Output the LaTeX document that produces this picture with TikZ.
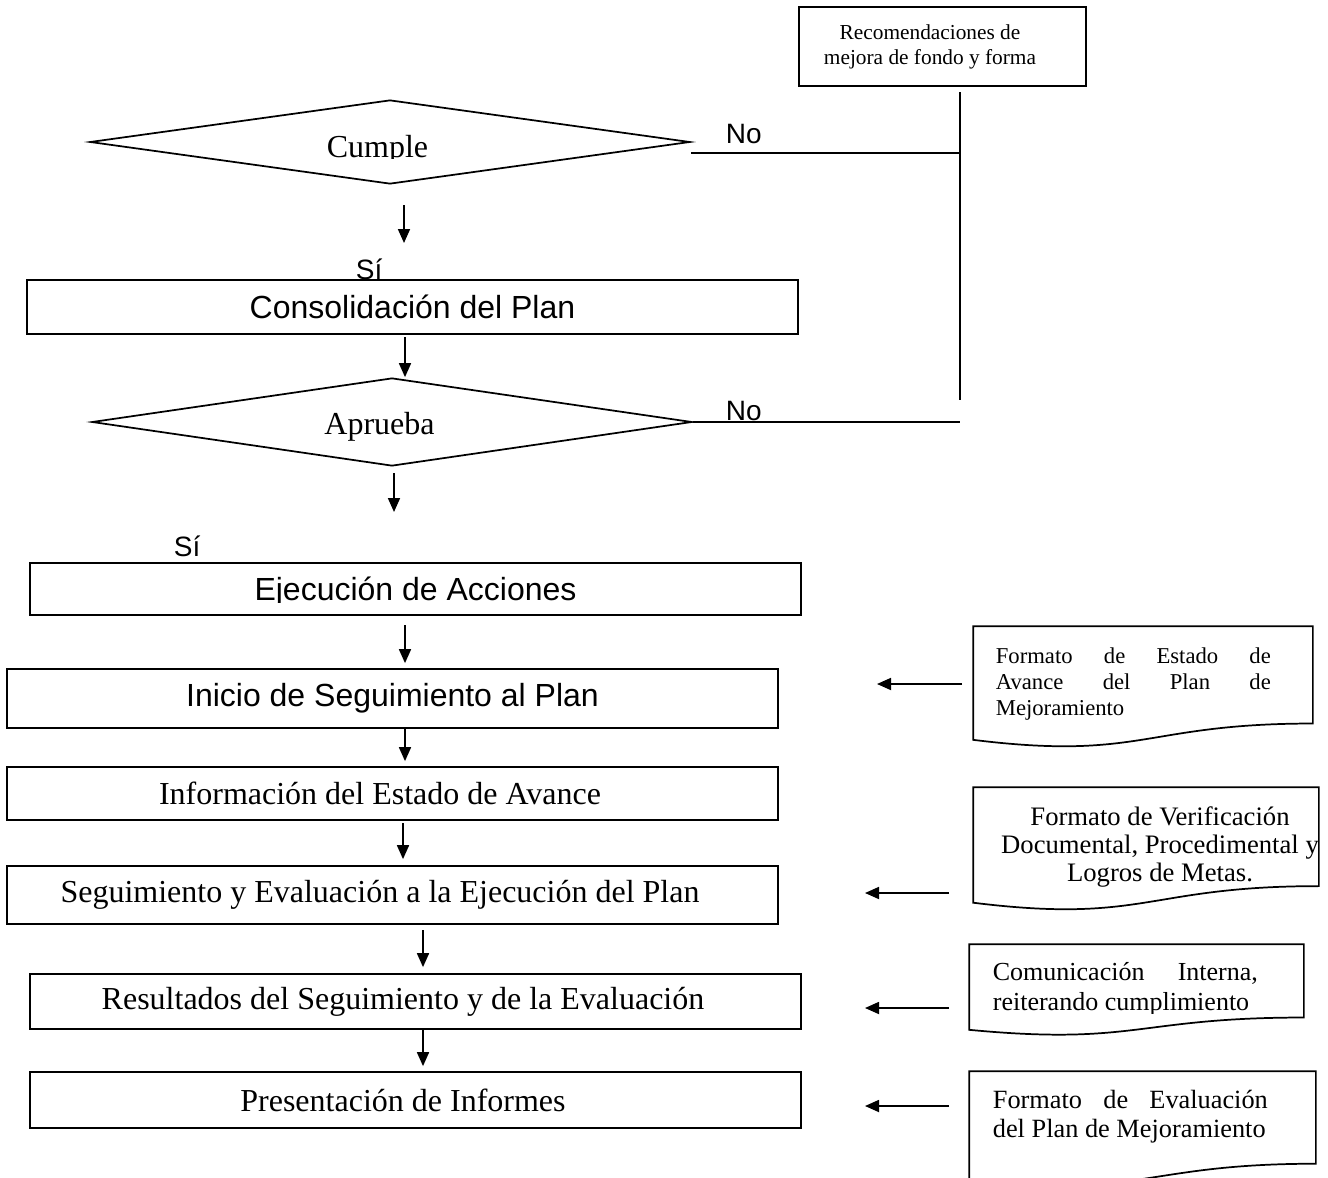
\documentclass[tikz,border=0pt]{standalone}
\usepackage{fontspec}
\setmainfont{Liberation Serif}
\newfontfamily\arialfont{Liberation Sans}
\usetikzlibrary{arrows.meta,calc,shapes.geometric}

% flowchart "document" symbol drawn over the frame of a named node
\newcommand\docoutline[1]{%
  \draw (#1.north west) -- (#1.north east)
    -- ($(#1.north east)!0.8!(#1.south east)$)
    .. controls ($(#1.north)!0.8!(#1.south)$) and ($(#1.north)!1.107!(#1.south)$)
    .. ($(#1.north west)!0.934!(#1.south west)$) -- cycle;}

\begin{document}
\begin{tikzpicture}[x=0.75pt,y=-0.75pt,line width=1.3pt,
  stepbox/.style={draw,rectangle,inner sep=0pt,minimum width=578.25pt},
  decision/.style={draw,diamond,inner sep=0pt},
  docframe/.style={rectangle,inner sep=0pt},
  sanslbl/.style={font=\arialfont\fontsize{24}{28}\selectfont},
  seriflbl/.style={font=\fontsize{24}{28}\selectfont},
  yesno/.style={font=\arialfont\fontsize{21}{24}\selectfont,inner sep=0pt},
  arr/.style={-{Triangle[length=10.5pt,width=9pt]}},
]
\useasboundingbox (0,0) rectangle (1328,1178);

% ---------- top: recommendations box and return line ----------
\node[stepbox,minimum width=215.25pt,minimum height=59.25pt] (rec) at (942.5,46.5) {};
\node[font=\fontsize{16}{18.75}\selectfont,align=center,inner sep=0pt] (rectxt) at (930,47)
  {Recomendaciones de\\mejora de fondo y forma};

\coordinate (vtop) at (960,92);
\coordinate (vbot) at (960,400);
\coordinate (nofrom) at (691,153);
\draw (vtop) -- (vbot);
\draw (nofrom) -- (nofrom -| vtop);

% ---------- decision: Cumple ----------
\node[decision,minimum width=450pt,minimum height=63pt] (cum) at (390,142) {};
\begin{scope}
  \clip (80,90) rectangle (700,158);
  \node[seriflbl,anchor=base,inner sep=0pt] (cumtxt) at (377.5,157) {Cumple};
\end{scope}
\node[yesno,anchor=base west] (no1) at (725,143) {No};

\coordinate (a1s) at (404,205);
\coordinate (a1e) at (404,243);
\draw[arr] (a1s) -- (a1e);
\node[yesno,anchor=base west] (si1) at (355,279) {Sí};

% ---------- consolidation ----------
\node[stepbox,minimum height=40.5pt,sanslbl] (cons) at (412.5,307) {Consolidación del Plan};

% ---------- decision: Aprueba ----------
\node[decision,minimum width=450pt,minimum height=66pt] (apr) at (392,422) {};
\node[seriflbl,anchor=base,inner sep=0pt] (aprtxt) at (379.5,434) {Aprueba};
\node[yesno,anchor=base west] (no2) at (725,420) {No};
\draw (apr.east) -- (apr.east -| vtop);

\coordinate (a2s) at (405,337);
\draw[arr] (a2s) -- (a2s |- apr.north);

\coordinate (a3s) at (394,473);
\coordinate (a3e) at (394,512);
\draw[arr] (a3s) -- (a3e);
\node[yesno,anchor=base west] (si2) at (173,556) {Sí};

% ---------- execution ----------
\node[stepbox,minimum height=39pt] (ejec) at (415.5,589) {};
\begin{scope}
  \clip (30,560) rectangle (801,602);
  \node[sanslbl,anchor=base,inner sep=0pt] (ejectxt) at (415.5,600) {Ejecución de Acciones};
\end{scope}

% ---------- follow-up chain ----------
\node[stepbox,minimum height=44.25pt,sanslbl] (ini) at (392.5,698.5) {Inicio de Seguimiento al Plan};
\node[stepbox,minimum height=39.75pt,seriflbl] (info) at (392.5,793.5)
  {Información del Estado de Avance\hspace*{18.75pt}};
\node[stepbox,minimum height=43.5pt,seriflbl] (segu) at (392.5,895)
  {Seguimiento y Evaluación a la Ejecución del Plan\hspace*{18.75pt}};
\node[stepbox,minimum height=41.25pt,seriflbl] (resu) at (415.5,1001.5)
  {Resultados del Seguimiento y de la Evaluación\hspace*{18.75pt}};
\node[stepbox,minimum height=42pt,seriflbl] (pres) at (415.5,1100)
  {Presentación de Informes\hspace*{18.75pt}};

\coordinate (a4s) at (405,625);
\draw[arr] (a4s) -- ($(a4s |- ini.north)+(0,-5)$);
\coordinate (a5s) at (405,727);
\draw[arr] (a5s) -- ($(a5s |- info.north)+(0,-5)$);
\coordinate (a6s) at (403,823);
\draw[arr] (a6s) -- ($(a6s |- segu.north)+(0,-6)$);
\coordinate (a7s) at (423,930);
\draw[arr] (a7s) -- ($(a7s |- resu.north)+(0,-6)$);
\coordinate (a8s) at (423,1030);
\draw[arr] (a8s) -- ($(a8s |- pres.north)+(0,-5)$);

% ---------- supporting documents ----------
\node[docframe,minimum width=253.5pt,minimum height=90pt] (d1) at (1143,687) {};
\docoutline{d1}
\node[anchor=north west,inner sep=0pt,align=left,font=\fontsize{17}{19.5}\selectfont] (d1txt) at (995,646.5)
  {\makebox[206.25pt][s]{Formato de Estado de}\\\makebox[206.25pt][s]{Avance del Plan de}\\Mejoramiento};

\node[docframe,minimum width=258pt,minimum height=91.5pt] (d2) at (1146,849) {};
\docoutline{d2}
\begin{scope}
  \clip (970,780) rectangle (1318,910);
  \node[anchor=north,inner sep=0pt,align=center,font=\fontsize{20}{21}\selectfont] (d2txt) at (1160,806)
    {Formato de Verificación\\Documental, Procedimental y\\Logros de Metas.};
\end{scope}

\node[docframe,minimum width=249.75pt,minimum height=67.5pt] (d3) at (1136.5,990) {};
\docoutline{d3}
\begin{scope}
  \clip (965,940) rectangle (1310,1013);
  \node[anchor=north west,inner sep=0pt,align=left,font=\fontsize{19.5}{22.5}\selectfont] (d3txt) at (992,962)
    {\makebox[198.75pt][s]{Comunicación Interna,}\\reiterando cumplimiento};
\end{scope}

\node[docframe,minimum width=258.75pt,minimum height=85.5pt] (d4) at (1142.5,1129) {};
\docoutline{d4}
\node[anchor=north west,inner sep=0pt,align=left,font=\fontsize{19.75}{21.75}\selectfont] (d4txt) at (992,1089)
  {\makebox[206.25pt][s]{Formato de Evaluación}\\del Plan de Mejoramiento};

% documents feeding the steps
\coordinate (l1s) at (962,684);   \coordinate (l1e) at (877,684);
\coordinate (l2s) at (949,893);   \coordinate (l2e) at (865,893);
\coordinate (l3s) at (949,1008);  \coordinate (l3e) at (865,1008);
\coordinate (l4s) at (949,1106);  \coordinate (l4e) at (865,1106);
\draw[arr] (l1s) -- (l1e);
\draw[arr] (l2s) -- (l2e);
\draw[arr] (l3s) -- (l3e);
\draw[arr] (l4s) -- (l4e);
\end{tikzpicture}
\end{document}
